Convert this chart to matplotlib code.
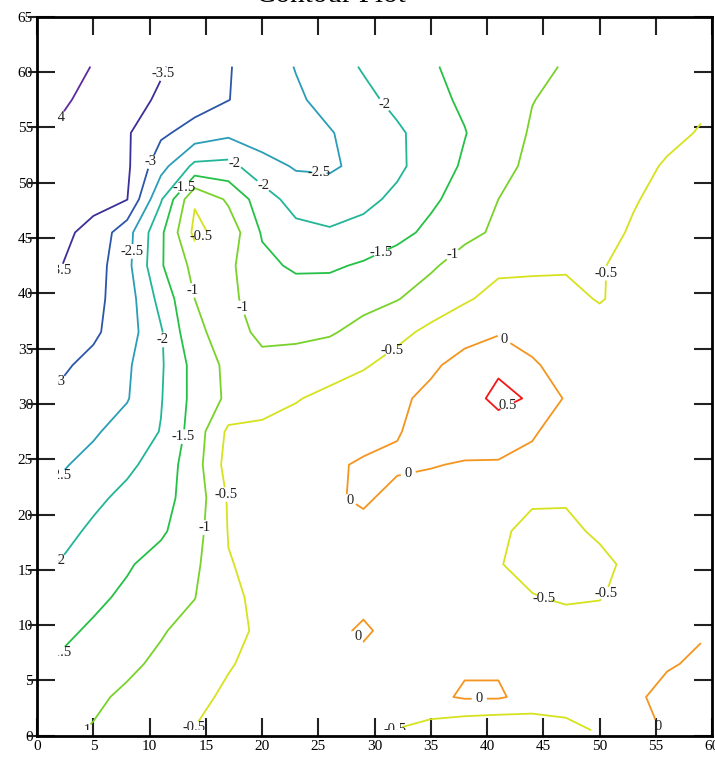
import numpy as np
import matplotlib
matplotlib.use("Agg")
import matplotlib.pyplot as plt
from matplotlib.patches import Rectangle
from matplotlib.ticker import FixedLocator

plt.rcParams['font.family'] = ['Liberation Serif', 'DejaVu Serif']

# grille des valeurs (colonnes x, lignes y du haut vers le bas)
x_cols = [2, 5, 8, 11, 14, 17, 20, 23, 26, 29, 32, 35, 38, 41, 44, 47, 50, 53, 56, 59]
y_rows = [60.5, 57.5, 54.5, 51.5, 48.5, 45.5, 42.5, 39.5, 36.5, 33.5, 30.5,
          27.5, 24.5, 21.5, 18.5, 15.5, 12.5, 9.5, 6.5, 3.5, 0.5]
z_rows = [
    [-4.20, -3.98, -3.76, -3.54, -3.29, -3.03, -2.75, -2.48, -2.21, -1.96, -1.75, -1.54, -1.38, -1.24, -1.10, -0.97, -0.88, -0.80, -0.71, -0.62],
    [-4.08, -3.86, -3.65, -3.44, -3.23, -3.01, -2.79, -2.57, -2.35, -2.12, -1.88, -1.64, -1.42, -1.21, -1.01, -0.91, -0.82, -0.73, -0.64, -0.55],
    [-3.93, -3.74, -3.55, -3.09, -2.80, -2.61, -2.78, -2.58, -2.53, -2.31, -2.07, -1.80, -1.52, -1.20, -0.96, -0.87, -0.77, -0.67, -0.57, -0.48],
    [-3.85, -3.70, -3.58, -2.68, -1.88, -1.85, -2.30, -2.55, -2.57, -2.37, -2.09, -1.77, -1.43, -1.11, -0.92, -0.81, -0.70, -0.59, -0.47, -0.38],
    [-3.74, -3.62, -3.51, -2.05, -0.55, -1.08, -1.77, -2.20, -2.25, -2.12, -1.90, -1.59, -1.29, -1.00, -0.88, -0.76, -0.64, -0.52, -0.42, -0.35],
    [-3.60, -3.38, -2.69, -1.60, -0.38, -0.70, -1.55, -1.85, -1.95, -1.85, -1.65, -1.38, -1.11, -0.93, -0.82, -0.70, -0.59, -0.47, -0.38, -0.30],
    [-3.52, -3.24, -2.64, -1.55, -0.85, -0.90, -1.37, -1.58, -1.57, -1.44, -1.25, -1.06, -0.81, -0.60, -0.56, -0.53, -0.52, -0.42, -0.32, -0.25],
    [-3.38, -3.14, -2.74, -1.83, -1.00, -0.93, -1.15, -1.25, -1.25, -1.15, -1.02, -0.80, -0.56, -0.34, -0.37, -0.42, -0.52, -0.40, -0.30, -0.22],
    [-3.23, -3.08, -2.73, -2.05, -1.08, -0.85, -1.08, -1.10, -1.05, -0.85, -0.64, -0.38, -0.15, -0.05, -0.15, -0.30, -0.38, -0.35, -0.30, -0.20],
    [-3.08, -2.87, -2.57, -2.06, -1.33, -0.88, -0.90, -0.82, -0.70, -0.55, -0.32, -0.07, 0.15, 0.42, 0.05, -0.15, -0.30, -0.33, -0.30, -0.25],
    [-2.92, -2.72, -2.53, -2.03, -1.34, -0.91, -0.72, -0.53, -0.38, -0.22, -0.08, 0.10, 0.30, 0.62, 0.45, -0.05, -0.25, -0.30, -0.30, -0.25],
    [-2.74, -2.56, -2.30, -1.98, -1.28, -0.40, -0.38, -0.32, -0.28, -0.18, -0.02, 0.12, 0.20, 0.28, 0.05, -0.20, -0.30, -0.32, -0.32, -0.28],
    [-2.56, -2.35, -2.10, -1.79, -1.22, -0.30, -0.30, -0.20, -0.08, 0.06, 0.05, 0.02, -0.03, -0.05, -0.12, -0.22, -0.30, -0.32, -0.32, -0.30],
    [-2.37, -2.11, -1.87, -1.66, -1.29, -0.45, -0.30, -0.20, -0.05, 0.05, -0.10, -0.15, -0.20, -0.30, -0.46, -0.47, -0.35, -0.30, -0.30, -0.28],
    [-2.17, -1.91, -1.74, -1.57, -1.20, -0.48, -0.35, -0.25, -0.15, -0.10, -0.20, -0.25, -0.35, -0.45, -0.58, -0.57, -0.45, -0.35, -0.30, -0.28],
    [-1.98, -1.77, -1.55, -1.32, -1.10, -0.52, -0.40, -0.30, -0.20, -0.15, -0.20, -0.28, -0.38, -0.48, -0.62, -0.65, -0.58, -0.42, -0.30, -0.25],
    [-1.80, -1.60, -1.41, -1.21, -1.01, -0.61, -0.38, -0.30, -0.18, -0.12, -0.20, -0.25, -0.30, -0.38, -0.48, -0.55, -0.52, -0.38, -0.25, -0.18],
    [-1.61, -1.43, -1.24, -1.04, -0.84, -0.63, -0.42, -0.25, -0.12, 0.06, -0.15, -0.20, -0.20, -0.25, -0.30, -0.32, -0.30, -0.22, -0.12, -0.03],
    [-1.44, -1.26, -1.09, -0.91, -0.72, -0.53, -0.38, -0.28, -0.18, -0.12, -0.15, -0.15, -0.05, -0.05, -0.15, -0.20, -0.20, -0.15, -0.03, 0.05],
    [-1.25, -1.08, -0.92, -0.76, -0.60, -0.43, -0.33, -0.25, -0.20, -0.18, -0.15, -0.10, 0.05, 0.05, -0.15, -0.25, -0.20, -0.06, 0.10, 0.15],
    [-1.10, -0.97, -0.83, -0.68, -0.49, -0.40, -0.32, -0.30, -0.32, -0.40, -0.52, -0.70, -0.90, -0.98, -0.85, -0.65, -0.45, -0.18, 0.05, 0.12],
]

levels = [-4, -3.5, -3, -2.5, -2, -1.5, -1, -0.5, 0, 0.5]
level_colors = ['#5e2a9c', '#3b2f98', '#2c56a8', '#2a9db8', '#22b597',
                '#25c046', '#78d22a', '#d6e21e', '#f3951f', '#f21818']

# position approximative des etiquettes (comme sur l'image)
label_pos = {
    -4: [(2.0, 55.8)],
    -3.5: [(11.8, 59.6), (2.0, 42.0)],
    -3: [(10.3, 51.8), (2.0, 31.5)],
    -2.5: [(25.0, 50.3), (8.3, 43.8), (2.0, 23.5)],
    -2: [(30.9, 57.1), (17.4, 51.5), (20.3, 50.0), (11.6, 35.8), (2.0, 15.6)],
    -1.5: [(13.2, 49.5), (30.7, 43.4), (13.2, 27.0), (2.0, 7.4)],
    -1: [(37.0, 43.4), (14.0, 40.3), (17.6, 38.5), (15.2, 18.8), (4.2, 0.6)],
    -0.5: [(15.0, 44.5), (31.8, 34.5), (51.2, 41.8), (16.7, 21.8), (44.9, 12.0),
           (50.9, 12.7), (14.2, 0.6), (31.8, 0.6)],
    0: [(41.8, 36.3), (27.5, 20.9), (32.9, 24.1), (28.5, 9.0), (39.3, 3.4), (55.1, 0.8)],
    0.5: [(41.8, 29.8)],
}

fig = plt.figure(figsize=(7.15, 7.64), dpi=100)
ax = fig.add_axes([0.052, 0.037, 0.944, 0.941])

X, Y = np.meshgrid(x_cols, y_rows[::-1])
Z = np.array(z_rows)[::-1]
cs = ax.contour(X, Y, Z, levels=levels, colors=level_colors, linewidths=1.3)

clip = Rectangle((1.85, 0.5), x_cols[-1] - 1.85, 62,
                 transform=ax.transData, fill=False, visible=False)
ax.add_patch(clip)

# initialisation des etiquettes, puis pose niveau par niveau
ax.clabel(cs, manual=[], inline=True, fmt='%g', fontsize=10.5, colors='#222222')
for i, lev in enumerate(levels):
    cs.labelIndiceList = [i]
    for (px, py) in label_pos[lev]:
        cs.add_label_near(px, py, inline=True, inline_spacing=2)
for t in cs.labelTexts:
    t.set_rotation(0)
    t.set_clip_path(clip)

ax.set_xlim(0, 60)
ax.set_ylim(0, 65)
ax.set_xticks(np.arange(0, 61, 5))
ax.set_yticks(np.arange(0, 66, 5))
ax.tick_params(direction='in', length=13, width=1.5, color='#222222',
               top=True, right=True, labelsize=11, pad=3)
# petits traits vers l'exterieur a gauche
ax.yaxis.remove_overlapping_locs = False
ax.yaxis.set_minor_locator(FixedLocator(np.arange(0, 66, 5)))
ax.tick_params(axis='y', which='minor', direction='out', length=6.5, width=1.5,
               color='#222222', right=False)
for s in ax.spines.values():
    s.set_linewidth(2)

# titre coupe en haut, comme sur l'original
fig.text(0.463, 0.9975, 'Contour Plot', ha='center', va='baseline', fontsize=21)

fig.savefig('out.png', dpi=100)
